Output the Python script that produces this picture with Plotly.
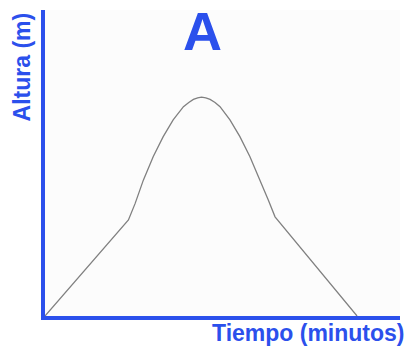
import plotly.graph_objects as go

BLUE = "#2b50ec"
LINE = "#808080"

# Tiempo (minutos) y altura (m)
tiempo = [0, 23.5, 25.4, 27.7, 30.5, 33.3, 36.1, 39.0, 40.5, 41.8, 43.0, 44.1,
          45.3, 46.5, 47.9, 49.3, 52.1, 54.9, 57.7, 60.6, 62.9, 64.8, 87.9]
altura = [0, 31.4, 36.8, 44.4, 52.1, 58.6, 64.1, 68.4, 69.8, 70.8, 71.3, 71.5,
          71.3, 70.8, 69.8, 68.4, 64.1, 58.6, 52.1, 44.4, 37.9, 32.4, 0]

titulo = "A"
etiqueta_x = "Tiempo (minutos)"
etiqueta_y = "Altura (m)"

fig = go.Figure()
fig.add_trace(
    go.Scatter(
        x=tiempo,
        y=altura,
        mode="lines",
        line=dict(color=LINE, width=1.3),
        hoverinfo="skip",
    )
)

axis_common = dict(
    showline=True,
    linewidth=4,
    linecolor=BLUE,
    showgrid=False,
    zeroline=False,
    showticklabels=False,
    ticks="",
    fixedrange=True,
)

fig.update_layout(
    width=410,
    height=351,
    margin=dict(l=45, r=10, t=10, b=35),
    paper_bgcolor="white",
    plot_bgcolor="#fcfcfc",
    showlegend=False,
    font=dict(family="Liberation Sans, Arial, sans-serif", color=BLUE),
    xaxis=dict(range=[0, 100], **axis_common),
    yaxis=dict(range=[0, 100], **axis_common),
    annotations=[
        dict(text=f"<b>{titulo}</b>", x=0.445, y=0.93, xref="paper", yref="paper",
             xanchor="center", yanchor="middle", showarrow=False,
             font=dict(size=54, color=BLUE)),
        dict(text=f"<b>{etiqueta_x}</b>", x=1.02, y=-0.055, xref="paper", yref="paper",
             xanchor="right", yanchor="middle", showarrow=False,
             font=dict(size=23, color=BLUE)),
        dict(text=f"<b>{etiqueta_y}</b>", x=-0.065, y=1.0, xref="paper", yref="paper",
             xanchor="center", yanchor="top", textangle=-90, showarrow=False,
             font=dict(size=23, color=BLUE)),
    ],
)

# quitar el margen por defecto del <body> para que la figura empiece en (0, 0)
fig.write_html("out.html", config={"displayModeBar": False},
               post_script="document.body.style.margin='0';")
